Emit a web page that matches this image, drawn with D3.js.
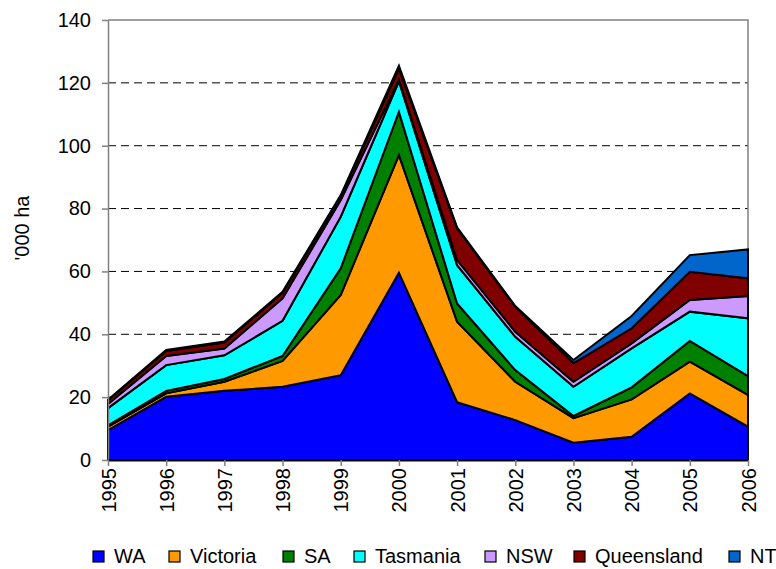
<!DOCTYPE html>
<html>
<head>
<meta charset="utf-8">
<script src="https://cdn.jsdelivr.net/npm/d3@7"></script>
<style>
  body { margin: 0; background: #fff; }
  svg text { font-family: "Liberation Sans", Arial, sans-serif; fill: #000; }
</style>
</head>
<body>
<svg id="diagram" width="776" height="569"></svg>
<script>
// years on the x axis
var years = [1995, 1996, 1997, 1998, 1999, 2000, 2001, 2002, 2003, 2004, 2005, 2006];

// '000 ha per state
var wa   = [9.5, 20.1, 22.0, 23.3, 27.0, 59.6, 18.4, 12.7, 5.5, 7.4, 21.2, 10.6];
var vic  = [1.1, 1.1, 2.9, 8.2, 25.5, 37.4, 25.6, 12.2, 7.8, 11.9, 10.1, 10.1];
var sa   = [0.4, 0.8, 0.9, 1.6, 8.5, 13.8, 5.8, 3.7, 0.7, 3.8, 6.6, 6.0];
var tas  = [5.5, 8.2, 7.5, 11.2, 16.4, 9.7, 12.2, 10.6, 9.3, 12.4, 9.3, 18.4];
var nsw  = [1.3, 2.9, 2.2, 7.1, 5.3, 0.5, 1.6, 1.6, 1.6, 1.6, 3.7, 7.1];
var qld  = [1.2, 1.6, 1.9, 1.8, 1.2, 3.5, 10.1, 8.0, 5.9, 4.8, 9.0, 5.6];
var nt   = [0.2, 0.3, 0.3, 0.3, 0.4, 1.0, 0.3, 0.2, 1.0, 3.9, 5.3, 9.2];

var seriesNames = ["WA", "Victoria", "SA", "Tasmania", "NSW", "Queensland", "NT"];
var seriesValues = [wa, vic, sa, tas, nsw, qld, nt];
var yTicks = [0, 20, 40, 60, 80, 100, 120, 140];

var colors = {
    "WA": "#0000ff",
    "Victoria": "#ff9900",
    "SA": "#008000",
    "Tasmania": "#00ffff",
    "NSW": "#cc99ff",
    "Queensland": "#800000",
    "NT": "#0066cc"
};

// rows for d3.stack
var rows = years.map(function (yr, i) {
    var r = { year: yr };
    seriesNames.forEach(function (n, j) { r[n] = seriesValues[j][i]; });
    return r;
});

var svg = d3.select("#diagram");
var plotLeft = 108, plotRight = 748, plotTop = 20, plotBottom = 460;

var x = d3.scalePoint().domain(years).range([plotLeft, plotRight]);
var y = d3.scaleLinear().domain([0, 140]).range([plotBottom, plotTop]);

// dashed grid
svg.append("g")
    .selectAll("line")
    .data(yTicks.filter(function (d) { return d > 0 && d < 140; }))
    .enter().append("line")
    .attr("x1", plotLeft).attr("x2", plotRight)
    .attr("y1", function (d) { return y(d); })
    .attr("y2", function (d) { return y(d); })
    .attr("stroke", "#000")
    .attr("stroke-width", 1)
    .attr("stroke-dasharray", "8,5");

// plot frame (top + right)
svg.append("path")
    .attr("d", "M" + plotLeft + "," + y(140) + "H" + plotRight + "V" + plotBottom)
    .attr("fill", "none")
    .attr("stroke", "#808080")
    .attr("stroke-width", 1.5);

// stacked areas
var stack = d3.stack().keys(seriesNames);
var layers = stack(rows);

var area = d3.area()
    .x(function (d) { return x(d.data.year); })
    .y0(function (d) { return y(d[0]); })
    .y1(function (d) { return y(d[1]); });

svg.append("g")
    .selectAll("path")
    .data(layers)
    .enter().append("path")
    .attr("d", area)
    .attr("fill", function (d) { return colors[d.key]; })
    .attr("stroke", "#000")
    .attr("stroke-width", 2)
    .attr("stroke-linejoin", "miter");

// y axis
var yAxis = svg.append("g")
    .attr("transform", "translate(" + plotLeft + ",0)")
    .call(d3.axisLeft(y).tickValues(yTicks).tickSize(6).tickPadding(11).tickSizeOuter(0));
yAxis.select(".domain").attr("stroke", "#808080").attr("stroke-width", 1.5);
yAxis.selectAll(".tick line").attr("stroke", "#808080").attr("stroke-width", 1.5);
yAxis.selectAll(".tick text").style("font-size", "20px");

// x axis
var xAxis = svg.append("g")
    .attr("transform", "translate(0," + plotBottom + ")")
    .call(d3.axisBottom(x).tickSize(6).tickSizeOuter(0));
xAxis.select(".domain").attr("stroke", "#000").attr("stroke-width", 2);
xAxis.selectAll(".tick line").attr("stroke", "#808080").attr("stroke-width", 1.5);
xAxis.selectAll(".tick text")
    .style("font-size", "20px")
    .attr("transform", "rotate(-90)")
    .attr("x", -8)
    .attr("y", 0)
    .attr("dy", "0.35em")
    .attr("text-anchor", "end");

// y title
svg.append("text")
    .attr("transform", "translate(29,228) rotate(-90)")
    .attr("text-anchor", "middle")
    .style("font-size", "20px")
    .text("'000 ha");

// legend
var legendX = [93, 169, 283, 354, 485, 574, 729];
var legend = svg.append("g")
    .selectAll("g")
    .data(seriesNames)
    .enter().append("g")
    .attr("transform", function (d, i) { return "translate(" + legendX[i] + ",551)"; });

legend.append("rect")
    .attr("width", 11)
    .attr("height", 11)
    .attr("fill", function (d) { return colors[d]; })
    .attr("stroke", "#000")
    .attr("stroke-width", 1.2);

legend.append("text")
    .attr("x", 21)
    .attr("y", 12)
    .style("font-size", "20px")
    .text(function (d) { return d; });
</script>
</body>
</html>
